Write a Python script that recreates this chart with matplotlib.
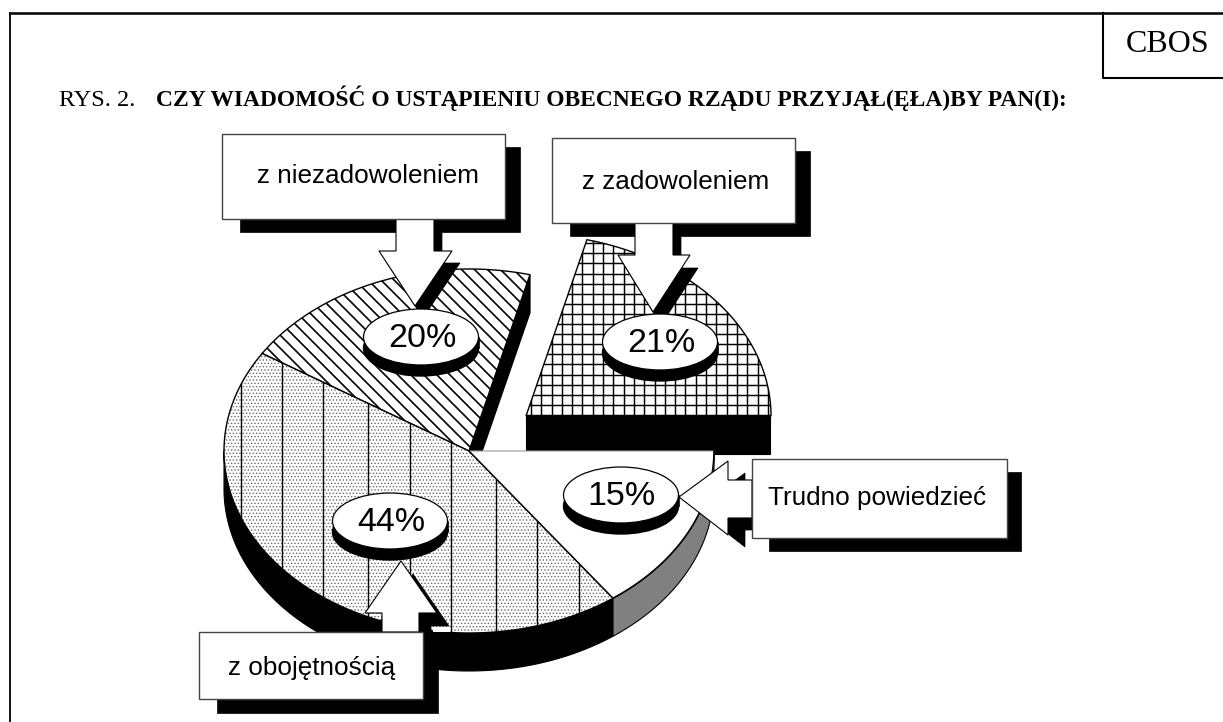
from matplotlib import pyplot as plt
from matplotlib.patches import Polygon, Rectangle, Ellipse
from matplotlib.collections import LineCollection
import numpy as np

# dane
answers = ["Trudno powiedzieć", "z obojętnością", "z niezadowoleniem", "z zadowoleniem"]
shares = [15, 44, 20, 21]
title_left = "RYS. 2."
title_bold = "CZY WIADOMOŚĆ O USTĄPIENIU OBECNEGO RZĄDU PRZYJĄŁ(ĘŁA)BY PAN(I):"

plt.rcParams['font.family'] = ['Liberation Sans', 'DejaVu Sans']
plt.rcParams['hatch.linewidth'] = 0.6

fig = plt.figure(figsize=(12.23, 7.22), dpi=100)
ax = fig.add_axes([0, 0, 1, 1])
ax.set_xlim(0, 1223)
ax.set_ylim(722, 0)
ax.axis('off')

# ramka
ax.plot([10, 1223], [12.5, 12.5], color='black', lw=1.8, solid_capstyle='butt')
ax.plot([10, 10], [12, 722], color='black', lw=1.3, solid_capstyle='butt')
ax.plot([1102.5, 1102.5, 1223], [13, 77.5, 77.5], color='black', lw=1.5)
ax.text(1168, 44.5, "CBOS", family='Liberation Serif', fontsize=23, ha='center', va='center')
ax.text(59, 106, title_left, family='Liberation Serif', fontsize=17.5, va='baseline')
ax.text(156, 106, title_bold, family='Liberation Serif', fontsize=16.9, weight='bold', va='baseline')

# geometria kola
cx, cy = 469, 451
rx, ry = 245, 182
depth = 38
shift = (57, -35)  # wysuniety wycinek "z zadowoleniem"


def arc(t0, t1, dx=0, dy=0):
    t = np.radians(np.linspace(t0, t1, 120))
    return np.column_stack([cx + dx + rx * np.cos(t), cy + dy - ry * np.sin(t)])


def wedge(t0, t1, dx=0, dy=0):
    return np.vstack([[cx + dx, cy + dy], arc(t0, t1, dx, dy)])


def hatch_lines(patch, segs, lw=1.0):
    lc = LineCollection(segs, colors='black', linewidths=lw, zorder=patch.get_zorder() + 0.1)
    ax.add_collection(lc)
    lc.set_clip_path(patch)


edges = 360 * np.cumsum([0] + shares) / sum(shares)
angles = [(-edges[i], -edges[i + 1]) for i in range(len(shares))]
a_tr, a_ob, a_ni, a_za = angles

# sciana i gora wycinka "z zadowoleniem"
ax.add_patch(Rectangle((cx + shift[0], cy + shift[1]), rx - 1, depth, fc='black', ec='black', lw=0.8, zorder=2))
p = Polygon(wedge(a_za[0], a_za[1], *shift), fc='white', ec='black', lw=1.0, zorder=2.2)
ax.add_patch(p)
hatch_lines(p, [[(x, 200), (x, 430)] for x in np.arange(cx + shift[0] + 5, 790, 10.3)] +
            [[(510, y), (790, y)] for y in np.arange(cy + shift[1] - 1, 225, -10.1)], lw=1.05)

# sciana boczna kola
bottom = arc(a_ob[0], -180)
ax.add_patch(Polygon(np.vstack([bottom, (bottom + [0, depth])[::-1]]), fc='black', ec='black', lw=0.8, zorder=3))
bottom = arc(a_tr[0], a_tr[1])
ax.add_patch(Polygon(np.vstack([bottom, (bottom + [0, depth])[::-1]]), fc='#808080', ec='black', lw=0.8, zorder=3))

# sciana wycinka "z niezadowoleniem"
tip = arc(a_ni[0], a_ni[1])[-1]
ax.add_patch(Polygon([[cx, cy], tip, tip + [0, depth], [cx, cy + depth]], fc='black', ec='black', zorder=3))

# wycinki
p = Polygon(wedge(a_ni[0], a_ni[1]), fc='white', ec='black', lw=1.0, zorder=3.2)
ax.add_patch(p)
hatch_lines(p, [[(x, 200), (x + 300, 500)] for x in np.arange(-50, 560, 13)], lw=1.2)

p = Polygon(wedge(a_ob[0], a_ob[1]), fc='white', ec='#6a6a6a', lw=0, zorder=3.4, hatch='.' * 5)
ax.add_patch(p)
hatch_lines(p, [[(x, 300), (x, 660)] for x in [241, 282, 323, 368, 410, 451, 496, 537, 579]])
ax.plot(*arc(a_ob[0], a_ob[1]).T, color='black', lw=1.0, zorder=3.6)
ax.plot(*wedge(a_ob[0], a_ob[0]).T, color='black', lw=1.0, zorder=3.6)
ax.plot(*wedge(a_ob[1], a_ob[1]).T, color='black', lw=1.0, zorder=3.6)

ax.add_patch(Polygon(wedge(a_tr[0], a_tr[1]), fc='white', ec='#999999', lw=0.8, zorder=3.8))
ax.plot(*wedge(a_tr[1], a_tr[1]).T, color='black', lw=1.0, zorder=3.9)
ax.plot(*arc(a_tr[0], a_tr[1]).T, color='black', lw=1.2, zorder=3.9)


# ramki z cieniem i strzalki
def box(x0, y0, x1, y1, sx, sy, text, tx, ty):
    ax.add_patch(Rectangle((x0 + sx, y0 + sy), x1 - x0 - 3, y1 - y0, fc='black', ec='black', lw=0.5, zorder=5))
    ax.add_patch(Rectangle((x0, y0), x1 - x0, y1 - y0, fc='white', ec='#444444', lw=1, zorder=7))
    ax.text(tx, ty, text, fontsize=18.8, ha='center', va='center', zorder=8)


def arrow(pts, off):
    pts = np.array(pts)
    ax.add_patch(Polygon(pts + off, fc='black', ec='black', lw=0.5, zorder=5.5))
    ax.add_patch(Polygon(pts, fc='white', ec='black', lw=0.8, zorder=6))


box(222, 134, 505, 219, 18, 13, answers[2], 368, 176)
box(552, 138, 795, 223, 18, 13, answers[3], 676, 182)
box(752, 459, 1007, 538, 17, 13, answers[0], 877, 498)
box(199, 632, 423, 699, 18, 14, answers[1], 312, 668)

arrow([(396, 219), (434, 219), (434, 251), (452, 251), (415, 306), (379, 251), (396, 251)], (8, 12))
arrow([(635, 223), (673, 223), (673, 255), (690, 255), (653, 312), (618, 255), (635, 255)], (8, 13))
arrow([(752, 480), (728, 480), (728, 461), (679, 497), (728, 535), (728, 518), (752, 518)], (17, 12))
arrow([(382, 632), (382, 613), (365, 613), (401, 561), (437, 613), (419, 613), (419, 632)], (12, 13))
ax.add_patch(Rectangle((433, 627), 17, 5, fc='white', ec='none', zorder=5.6))

# etykiety procentowe
label_pos = [(621, 495), (390, 521), (421, 337), (660, 342)]
for (lx, ly), v in zip(label_pos, shares):
    ax.add_patch(Ellipse((lx, ly + 11), 115, 56, fc='black', ec='black', zorder=9))
    ax.add_patch(Rectangle((lx - 57.5, ly), 115, 11, fc='black', ec='black', lw=0.5, zorder=9))
    ax.add_patch(Ellipse((lx, ly), 115, 56, fc='white', ec='black', lw=0.9, zorder=9.5))
    ax.text(lx + 1, ly + 1.5, f"{v}%", fontsize=24.5, ha='center', va='center', zorder=10)

plt.savefig('out.png', dpi=100)
